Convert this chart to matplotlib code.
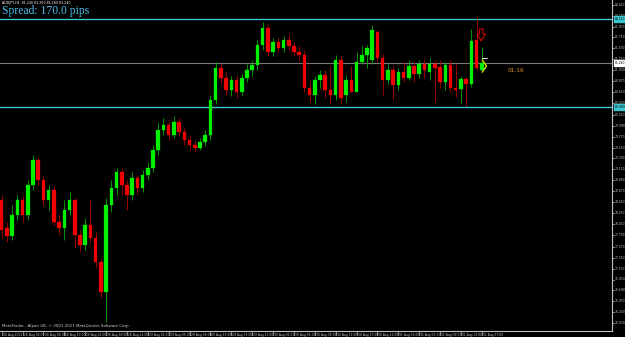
import matplotlib
matplotlib.use("Agg")
import matplotlib.pyplot as plt
import numpy as np

# --- data (AUDJPY H1) ---
opens = [78.50, 77.94, 77.78, 78.20, 78.50, 78.20, 78.80, 79.30, 78.90, 78.50,
         78.70, 78.06, 77.94, 78.30, 78.50, 77.80, 77.60, 78.00, 77.74, 77.26,
         76.66, 78.40, 78.74, 79.06, 78.80, 78.60, 78.94, 78.74, 79.00, 79.14,
         79.50, 79.90, 80.00, 79.80, 80.06, 79.86, 79.70, 79.60, 79.54, 79.66,
         79.80, 80.50, 81.14, 80.94, 80.70, 80.90, 80.66, 80.94, 81.10, 81.20,
         81.60, 81.94, 81.46, 81.66, 81.54, 81.70, 81.58, 81.46, 81.40, 80.74,
         80.60, 80.90, 81.00, 80.70, 80.60, 81.30, 80.60, 80.90, 80.66, 81.26,
         81.40, 81.30, 81.86, 81.34, 80.90, 81.10, 80.80, 81.06, 80.94, 81.18,
         81.02, 81.22, 81.06, 81.22, 81.16, 80.86, 81.20, 80.74, 80.72, 80.92,
         80.82, 81.70, 81.10]
highs = [78.60, 78.06, 78.40, 78.60, 78.58, 78.90, 79.40, 79.34, 78.98, 78.80,
         78.78, 78.20, 78.50, 78.66, 78.54, 77.90, 78.14, 78.50, 77.86, 77.34,
         78.54, 78.90, 79.14, 79.14, 78.90, 79.06, 79.00, 79.10, 79.26, 79.60,
         80.06, 80.14, 80.10, 80.18, 80.14, 79.94, 79.78, 79.70, 79.74, 79.90,
         80.60, 81.26, 81.22, 81.06, 80.98, 81.00, 81.02, 81.22, 81.30, 81.70,
         82.06, 82.02, 81.74, 81.74, 81.78, 81.82, 81.66, 81.58, 81.50, 80.90,
         80.98, 81.10, 81.10, 81.18, 81.40, 81.38, 81.00, 81.18, 81.46, 81.58,
         81.60, 82.00, 81.90, 81.42, 81.22, 81.18, 81.14, 81.26, 81.30, 81.26,
         81.30, 81.30, 81.34, 81.30, 81.30, 81.26, 81.30, 81.22, 80.98, 80.96,
         81.92, 82.14, 81.56]
lows = [77.74, 77.66, 77.70, 78.10, 78.06, 78.10, 78.70, 78.78, 78.40, 78.30,
        77.98, 77.80, 77.70, 78.20, 77.54, 77.46, 77.50, 77.66, 77.14, 76.54,
        76.06, 78.26, 78.60, 78.60, 78.30, 78.50, 78.60, 78.66, 78.90, 79.06,
        79.40, 79.80, 79.70, 79.74, 79.78, 79.60, 79.50, 79.46, 79.50, 79.58,
        79.70, 80.42, 80.82, 80.60, 80.58, 80.54, 80.60, 80.86, 80.98, 81.10,
        81.50, 81.38, 81.38, 81.46, 81.46, 81.50, 81.38, 81.30, 80.66, 80.46,
        80.42, 80.74, 80.54, 80.42, 80.50, 80.42, 80.46, 80.80, 80.70, 81.22,
        81.14, 81.22, 81.26, 80.60, 80.82, 80.50, 80.70, 80.86, 80.90, 80.86,
        80.94, 80.94, 80.90, 80.46, 80.74, 80.70, 80.66, 80.56, 80.44, 80.38,
        80.76, 81.10, 81.08]
closes = [77.90, 77.78, 78.20, 78.50, 78.20, 78.80, 79.30, 78.90, 78.50, 78.70,
          78.06, 77.94, 78.30, 78.50, 77.80, 77.60, 78.00, 77.74, 77.26, 76.66,
          78.40, 78.74, 79.06, 78.80, 78.60, 78.94, 78.74, 79.00, 79.14, 79.50,
          79.90, 80.00, 79.80, 80.06, 79.86, 79.70, 79.60, 79.54, 79.66, 79.80,
          80.50, 81.14, 80.94, 80.70, 80.90, 80.66, 80.94, 81.10, 81.20, 81.60,
          81.94, 81.46, 81.66, 81.54, 81.70, 81.58, 81.46, 81.40, 80.74, 80.60,
          80.90, 81.00, 80.70, 80.60, 81.30, 80.54, 80.90, 80.66, 81.26, 81.40,
          81.54, 81.90, 81.34, 80.90, 81.10, 80.80, 81.06, 80.94, 81.18, 81.02,
          81.22, 81.10, 81.22, 81.14, 80.86, 81.20, 80.74, 80.70, 80.92, 80.82,
          81.68, 81.14, 81.24]

upper_level = 82.12
lower_level = 80.36
bid_price = 81.24
timer_text = "01:16"
tick_prices = [82.41, 82.19, 81.97, 81.75, 81.53, 81.31, 81.09, 80.87, 80.65, 80.43,
               80.21, 79.99, 79.77, 79.55, 79.33, 79.11, 78.89, 78.67, 78.45, 78.23,
               78.01, 77.79, 77.57, 77.35, 77.13, 76.91, 76.69, 76.47, 76.25, 76.03]
date_labels = ["26 Aug 2011", "26 Aug 02:00", "26 Aug 06:00", "26 Aug 10:00", "26 Aug 14:00",
               "26 Aug 18:00", "26 Aug 22:00", "29 Aug 01:00", "29 Aug 05:00", "29 Aug 09:00",
               "29 Aug 13:00", "29 Aug 17:00", "29 Aug 21:00", "30 Aug 01:00", "30 Aug 05:00",
               "30 Aug 09:00", "30 Aug 13:00", "30 Aug 17:00", "30 Aug 21:00", "31 Aug 01:00",
               "31 Aug 05:00", "31 Aug 09:00", "31 Aug 13:00", "31 Aug 17:00"]

W, H = 625, 337
YMIN, YMAX = 75.88, 82.50
fig = plt.figure(figsize=(W / 100, H / 100), dpi=100, facecolor="black")
ax = fig.add_axes([0, 6 / H, 612 / W, 1 - 6 / H], facecolor="black")
ax.set_xlim(-0.33, 116.95)
ax.set_ylim(YMIN, YMAX)
for s in ["top", "left"]:
    ax.spines[s].set_visible(False)
for s in ["right", "bottom"]:
    ax.spines[s].set_color("#c0c0c0")
    ax.spines[s].set_linewidth(0.8)
ax.set_xticks([])
ax.set_yticks([])

# levels
ax.axhline(upper_level, color="#3cc6d0", lw=1.0)
ax.axhline(lower_level, color="#3cc6d0", lw=1.0)
ax.axhline(bid_price, color="#7a7a7a", lw=0.8)

# candles
o = np.array(opens); c = np.array(closes)
hi = np.array(highs); lo = np.array(lows)
idx = np.arange(len(o))
up = c >= o
cols = np.where(up, "#00f000", "#f00000")
ax.vlines(idx, lo, hi, colors=np.where(up, "#00b000", "#b00000"), lw=0.6, zorder=2)
ax.bar(idx, np.abs(c - o), bottom=np.minimum(o, c), width=0.68, color=cols,
       edgecolor=cols, linewidth=0.2, zorder=3)

# markers near the last bar: red outlined down arrow, white dash, yellow chevron
last = len(o) - 1
ax_x = last - 0.1
top = highs[last] + 0.36
ax.fill([ax_x - 0.35, ax_x + 0.35, ax_x + 0.35, ax_x + 0.8, ax_x, ax_x - 0.8, ax_x - 0.35],
        [top, top, top - 0.10, top - 0.10, top - 0.24, top - 0.10, top - 0.10],
        facecolor="none", edgecolor="#d00000", lw=0.8, zorder=4)
ax.plot([last, last + 1.0], [highs[last] - 0.22] * 2, color="white", lw=0.6, zorder=4)
ax.plot([last + 0.1, last + 0.9, last + 0.1], [bid_price + 0.06, bid_price - 0.06, bid_price - 0.18],
        color="#c8e000", lw=1.0, zorder=4)

# right price labels
def yfrac(p):
    return (p - YMIN) / (YMAX - YMIN)

for p in tick_prices:
    ax.text(1.004, yfrac(p), f"{p:.3f}", transform=ax.transAxes,
            color="#c8c8c8", fontsize=2.2, va="center", ha="left", clip_on=False)
    ax.plot([1.0, 1.003], [yfrac(p)] * 2, transform=ax.transAxes, color="#c0c0c0",
            lw=0.5, clip_on=False)
for p, bg, fg in [(upper_level, "#3cc6d0", "black"), (lower_level, "#3cc6d0", "black"),
                  (bid_price, "white", "black")]:
    ax.text(1.004, yfrac(p), f"{p:.3f}", transform=ax.transAxes, color=fg, fontsize=2.2,
            va="center", ha="left", clip_on=False,
            bbox=dict(boxstyle="square,pad=0.25", fc=bg, ec=bg))

# bottom date labels
for k, lab in enumerate(date_labels):
    ax.text(k * 4 + 0.2, -0.006, lab, transform=ax.get_xaxis_transform(), color="#c8c8c8",
            fontsize=2.2, va="top", ha="left", clip_on=False)
    ax.plot([k * 4, k * 4], [0, -0.012], transform=ax.get_xaxis_transform(),
            color="#c0c0c0", lw=0.5, clip_on=False)

fig.text(2 / W, 1 - 3 / H, "AUDJPY,H1  81.240 81.260 81.180 81.240", color="white",
         fontsize=2.3, va="center", ha="left")
fig.text(2 / W, 1 - 11 / H, "Spread: 170.0 pips", color="#4cbfea", fontsize=8.4,
         family="Liberation Serif", va="center", ha="left")
fig.text(2 / W, 1 - 326 / H, "MetaTrader - Alpari UK, \u00a9 2001-2011 MetaQuotes Software Corp.",
         color="#d0d0d0", fontsize=2.8, va="center", ha="left")
fig.text(508 / W, 1 - 70 / H, timer_text, color="#d8862c", fontsize=4.2, va="center", ha="left")

fig.savefig("out.png", dpi=100, facecolor="black")
